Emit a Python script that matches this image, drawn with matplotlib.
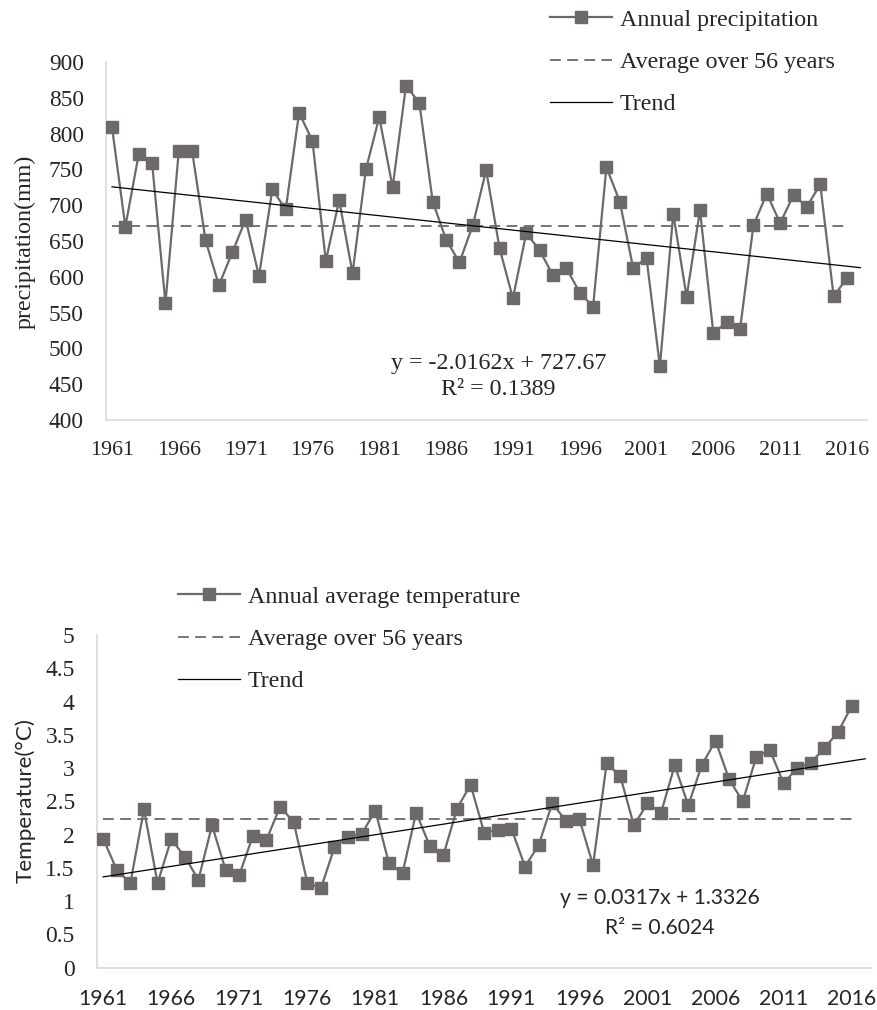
import numpy as np
import matplotlib.pyplot as plt

years = list(range(1961, 2017))

precip = [809, 670, 771, 759, 563, 776, 775, 651, 588, 634,
          680, 601, 722, 694, 829, 790, 622, 707, 605, 750,
          823, 725, 867, 843, 705, 652, 620, 672, 749, 640,
          570, 661, 637, 602, 612, 578, 558, 753, 705, 612,
          626, 475, 688, 572, 693, 521, 537, 527, 672, 716,
          675, 714, 698, 729, 573, 598]

temp = [1.94, 1.47, 1.27, 2.38, 1.27, 1.93, 1.67, 1.32, 2.14, 1.47,
        1.39, 1.98, 1.92, 2.42, 2.19, 1.28, 1.19, 1.81, 1.97, 2.01,
        2.36, 1.57, 1.42, 2.33, 1.83, 1.69, 2.39, 2.75, 2.03, 2.07,
        2.09, 1.52, 1.84, 2.47, 2.21, 2.23, 1.54, 3.07, 2.88, 2.14,
        2.47, 2.33, 3.04, 2.44, 3.05, 3.41, 2.83, 2.50, 3.17, 3.27,
        2.77, 3.00, 3.08, 3.30, 3.54, 3.93]

precip_avg = 671
temp_avg = 2.23
precip_fit = (-2.0162, 727.67)
temp_fit = (0.0317, 1.3326)
precip_eq = ["y = -2.0162x + 727.67", "R² = 0.1389"]
temp_eq = ["y = 0.0317x + 1.3326", "R² = 0.6024"]

GRAY = "#6d6969"
AXC = "#d9d9d9"
TXT = "#262626"
SERIF = "Liberation Serif"
SANS = "Lato"
BIG = 17.3  # legend / ylabel / equation size

plt.rcParams["font.family"] = SERIF

fig = plt.figure(figsize=(8.78, 10.10), dpi=100)
ax1 = fig.add_axes([0.1207, 0.5842, 0.8668, 0.3544])
ax2 = fig.add_axes([0.1105, 0.0419, 0.8827, 0.3294])

x = np.array(years)
xt = np.arange(1961, 2018)  # trend goes one step past the data


def draw(ax, vals, avg, fit, label):
    ax.plot(x, vals, color=GRAY, lw=1.6, marker="s", ms=9, label=label, zorder=3)
    ax.plot([x[0], x[-1]], [avg, avg], color=GRAY, lw=1.3, dashes=(6, 3.5),
            label="Average over 56 years", zorder=2)
    ax.plot(xt, fit[0] * (xt - 1960) + fit[1], color="black", lw=0.9,
            label="Trend", zorder=4)
    ax.set_xlim(1960.55, 2017.5)
    ax.set_xticks(range(1961, 2017, 5))
    for s in ["top", "right"]:
        ax.spines[s].set_visible(False)
    for s in ["left", "bottom"]:
        ax.spines[s].set_color(AXC)
        ax.spines[s].set_linewidth(1.2)
    ax.tick_params(length=0, colors=TXT)
    ax.tick_params(axis="y", pad=16)
    ax.tick_params(axis="x", pad=15)


def legend(ax, xy):
    ax.legend(loc="upper left", bbox_to_anchor=xy, bbox_transform=fig.transFigure,
              frameon=False, fontsize=BIG, handlelength=2.6, labelspacing=0.85,
              handletextpad=0.3, borderpad=0, borderaxespad=0, labelcolor=TXT)


# precipitation
draw(ax1, precip, precip_avg, precip_fit, "Annual precipitation")
ax1.set_ylim(400, 900)
ax1.set_yticks(range(400, 901, 50))
ax1.tick_params(axis="y", labelsize=16.8, labelfontfamily=SERIF)
ax1.tick_params(axis="x", labelsize=15.8, labelfontfamily=SERIF)
fig.text(0.029, 0.761, "precipitation(mm)", rotation=90, ha="center",
         va="center", fontsize=BIG, color=TXT)
ax1.text(0.516, 0.159, precip_eq[0], transform=ax1.transAxes, ha="center",
         va="center", fontsize=BIG, color=TXT)
ax1.text(0.516, 0.084, precip_eq[1], transform=ax1.transAxes, ha="center",
         va="center", fontsize=BIG, color=TXT)
legend(ax1, (0.6264, 0.991))

# temperature
draw(ax2, temp, temp_avg, temp_fit, "Annual average temperature")
ax2.set_ylim(0, 5)
ax2.set_yticks(np.arange(0, 5.01, 0.5))
ax2.set_yticklabels(["0", "0.5", "1", "1.5", "2", "2.5", "3", "3.5", "4", "4.5", "5"])
ax2.tick_params(axis="y", labelsize=17, labelfontfamily=SERIF)
ax2.tick_params(axis="x", labelsize=15.3, labelfontfamily=SANS)
fig.text(0.029, 0.207, "Temperature(°C)", rotation=90, ha="center",
         va="center", fontsize=16.2, color=TXT, family=SANS)
ax2.text(0.726, 0.21, temp_eq[0], transform=ax2.transAxes, ha="center",
         va="center", fontsize=15.2, color=TXT, family=SANS)
ax2.text(0.726, 0.12, temp_eq[1], transform=ax2.transAxes, ha="center",
         va="center", fontsize=15.2, color=TXT, family=SANS)
legend(ax2, (0.2027, 0.4198))

fig.savefig("out.png", dpi=100)
